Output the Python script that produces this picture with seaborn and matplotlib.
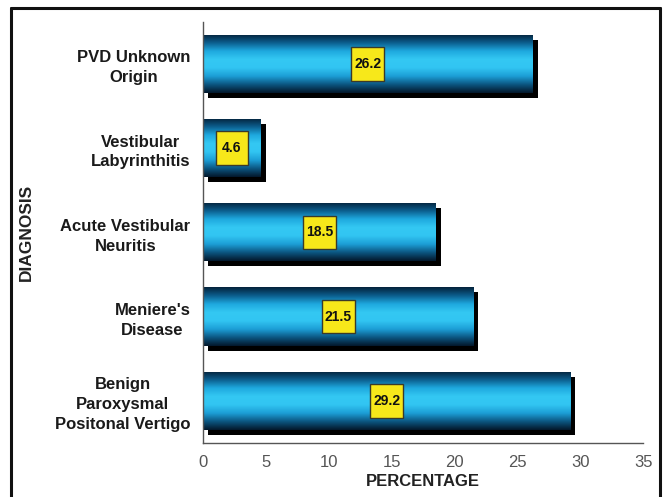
import numpy as np
import pandas as pd
import matplotlib
matplotlib.use('Agg')
import matplotlib.pyplot as plt
import matplotlib.patheffects as pe
from matplotlib.colors import LinearSegmentedColormap
from matplotlib.lines import Line2D
from matplotlib.patches import Rectangle
import seaborn as sns

diagnoses = ['PVD Unknown\nOrigin', 'Vestibular\nLabyrinthitis', 'Acute Vestibular\nNeuritis',
             "Meniere's\nDisease", 'Benign\nParoxysmal\nPositonal Vertigo']
percentages = [26.2, 4.6, 18.5, 21.5, 29.2]
x_ticks = [0, 5, 10, 15, 20, 25, 30, 35]

df = pd.DataFrame({'diagnosis': diagnoses, 'percentage': percentages})

sns.set_style('white')
plt.rcParams['font.family'] = ['Liberation Sans', 'DejaVu Sans']

fig = plt.figure(figsize=(6.7, 4.97), dpi=100)
ax = fig.add_axes([0.303, 0.109, 0.657, 0.847])

sns.barplot(data=df, x='percentage', y='diagnosis', orient='h', color='#1f9fd8',
            width=0.69, ax=ax, linewidth=0)

# gradient fill + drop shadow on each bar
grad_cmap = LinearSegmentedColormap.from_list(
    'bar', ['#04223a', '#0b5d8c', '#1ea8de', '#34c8f3', '#32c5f2', '#1c9ed6', '#0b5580', '#03172a'])
grad = np.linspace(0, 1, 256).reshape(-1, 1)
box_w, box_h = 2.6, 0.4
for p in ax.patches:
    x0, y0 = p.get_x(), p.get_y()
    w, h = p.get_width(), p.get_height()
    p.set_path_effects([pe.SimplePatchShadow(offset=(3.6, -3.6), shadow_rgbFace='black', alpha=1.0),
                        pe.Normal()])
    im = ax.imshow(grad, cmap=grad_cmap, extent=[x0, x0 + w, y0 + h, y0], aspect='auto',
                   interpolation='bicubic', zorder=p.get_zorder() + 0.1)
    im.set_clip_path(p)
    cx, cy = w / 2, y0 + h / 2
    ax.add_patch(Rectangle((cx - box_w / 2, cy - box_h / 2), box_w, box_h, facecolor='#f7e81a',
                           edgecolor='#3a3a2a', linewidth=1, zorder=4))
    ax.text(cx, cy, f'{w:.1f}', ha='center', va='center', fontsize=10,
            fontweight='bold', color='#111111', zorder=5)

ax.set_xlim(0, 35)
ax.set_ylim(4.5, -0.5)
ax.set_xticks(x_ticks)
ax.set_xticklabels([str(t) for t in x_ticks], fontsize=12, color='#555555')
ax.set_yticks(range(len(diagnoses)))
ax.set_yticklabels(diagnoses, fontsize=12, fontweight='bold', color='#1a1a1a',
                   multialignment='center', linespacing=1.4)
ax.set_yticks(np.arange(-0.5, 5.0, 1.0), minor=True)
ax.tick_params(axis='y', which='major', length=0, pad=9)
ax.tick_params(axis='y', which='minor', length=4, width=1, color='#555555', direction='out')
ax.tick_params(axis='x', which='major', length=6, width=1, color='#555555', direction='inout', pad=6)

sns.despine(ax=ax)
for s in ['left', 'bottom']:
    ax.spines[s].set_color('#555555')
    ax.spines[s].set_linewidth(1)

ax.set_xlabel('PERCENTAGE', fontsize=12, fontweight='bold', color='#222222', labelpad=3)
ax.set_ylabel('')
fig.text(0.04, 0.533, 'DIAGNOSIS', rotation=90, ha='center', va='center',
         fontsize=12.5, fontweight='bold', color='#222222')

# figure frame
for xs, ys in [([0.016, 0.016], [0.0, 0.984]), ([0.016, 0.985], [0.984, 0.984]),
               ([0.985, 0.985], [0.0, 0.984])]:
    fig.add_artist(Line2D(xs, ys, transform=fig.transFigure, color='#111111', linewidth=2.2))

fig.savefig('out.png', dpi=100)
